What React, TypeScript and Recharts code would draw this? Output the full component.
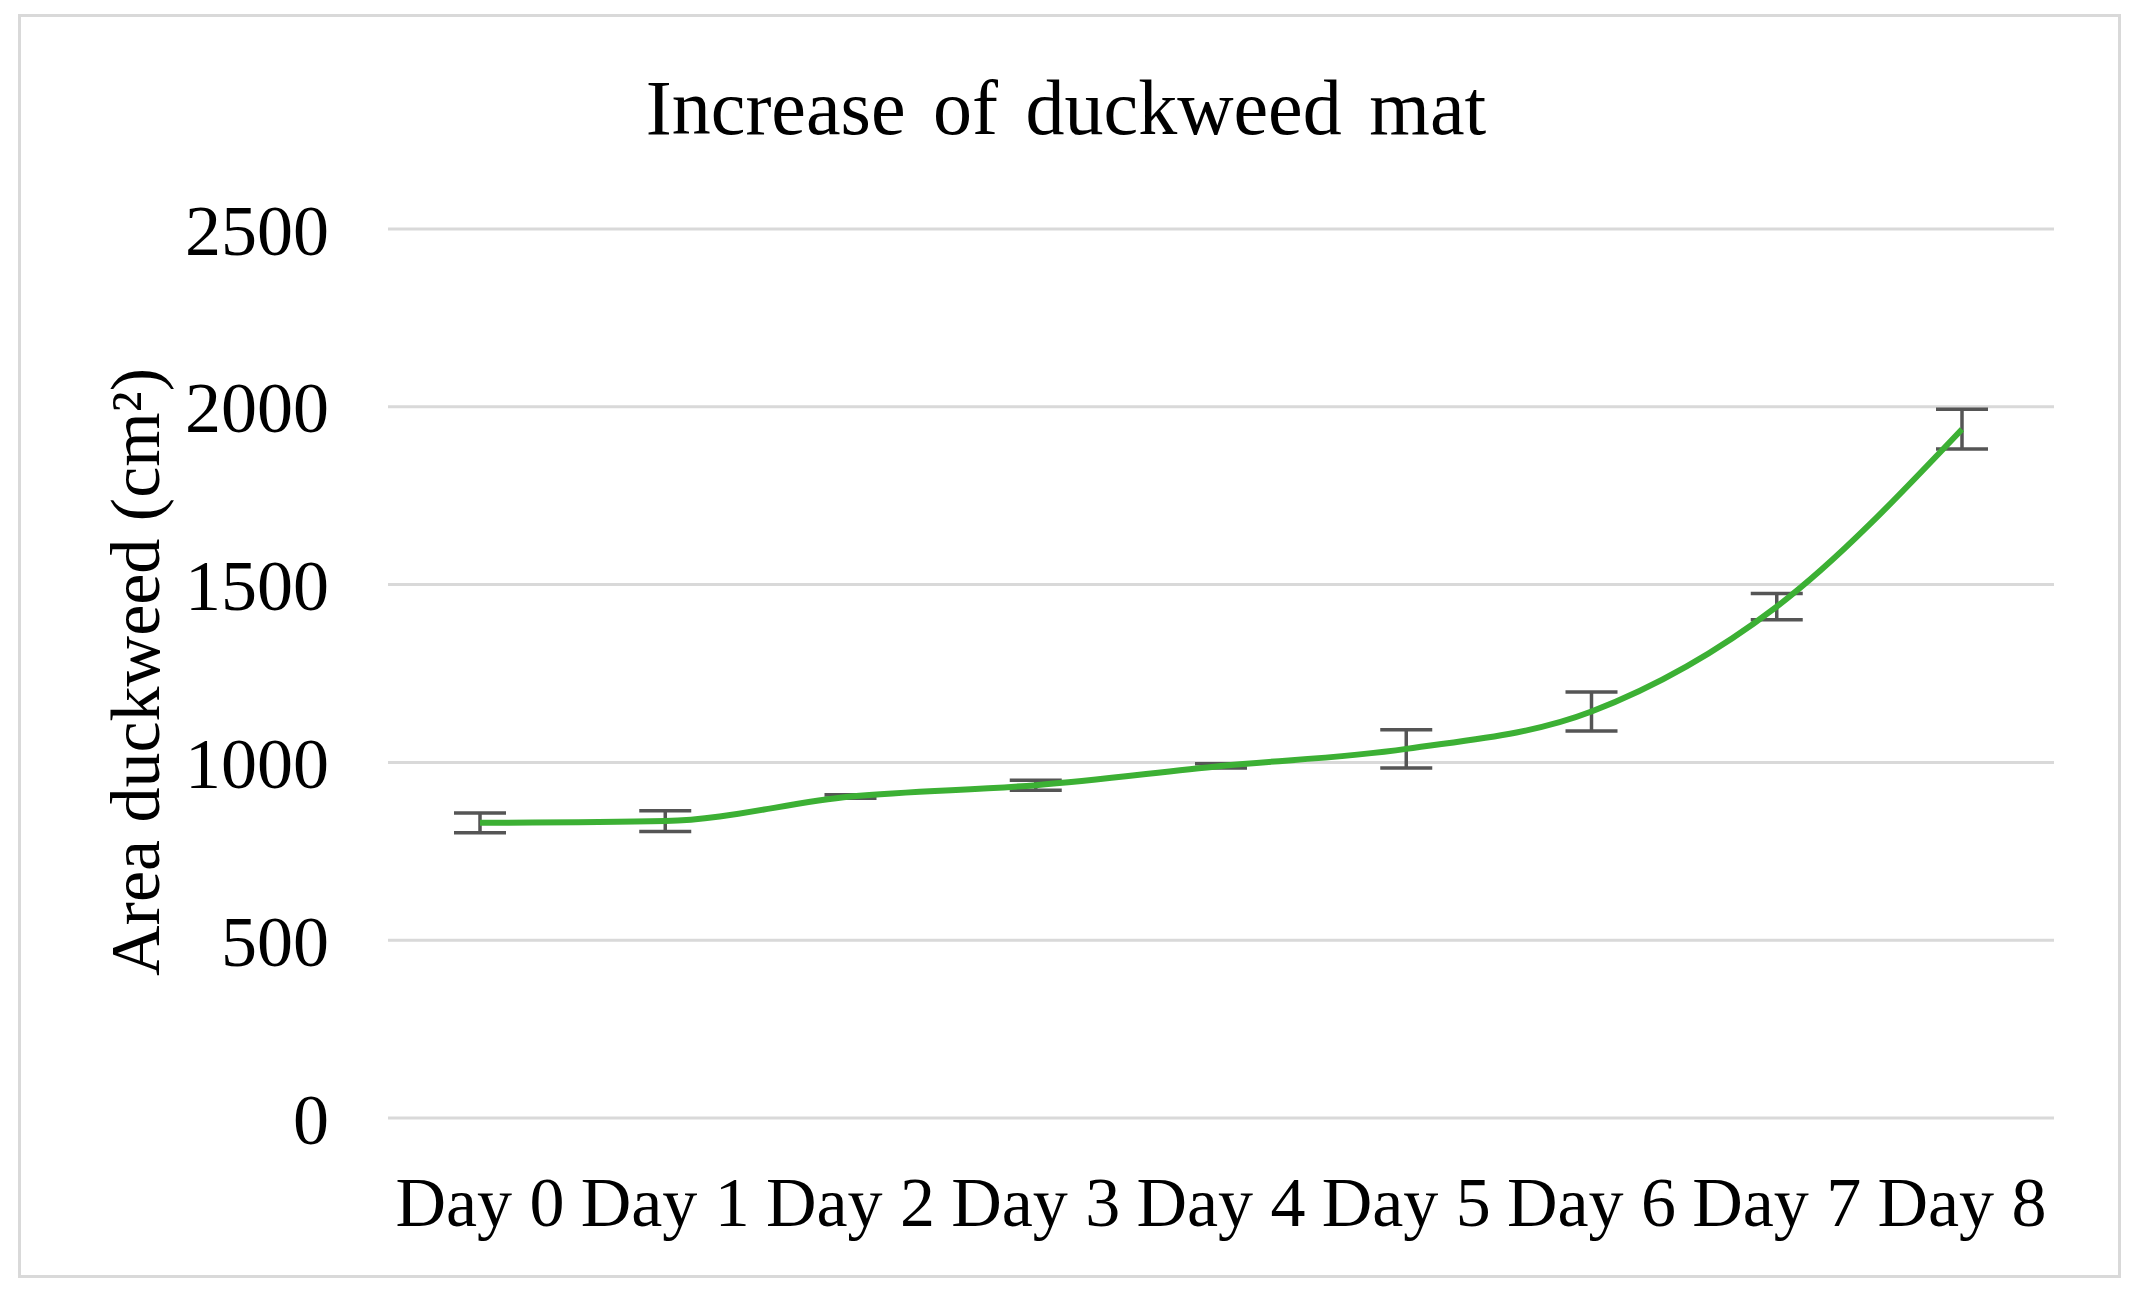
import React from "react";
import { LineChart, Line, XAxis, YAxis, CartesianGrid, ErrorBar } from "recharts";

const days = ["Day 0", "Day 1", "Day 2", "Day 3", "Day 4", "Day 5", "Day 6", "Day 7", "Day 8"];
const area = [830, 835, 904, 936, 990, 1038, 1143, 1438, 1937];
const areaErr = [28, 29, 5, 14, 6, 54, 55, 37, 56];
const yTicks = [0, 500, 1000, 1500, 2000, 2500];

const data = days.map((day, i) => ({ day, area: area[i], err: areaErr[i] }));

const font = "'Liberation Serif', 'Times New Roman', serif";

export default function App() {
  return (
    <div style={{ position: "absolute", left: 0, top: 0, width: 2132, height: 1292, background: "#fff", fontFamily: font }}>
      <div
        style={{
          position: "absolute", left: 18, top: 14, width: 2097, height: 1258,
          border: "3px solid #d9d9d9",
        }}
      />
      <div
        style={{
          position: "absolute", left: 0, top: 58, width: 2132, textAlign: "center",
          fontSize: 78, lineHeight: "100px", color: "#000", wordSpacing: 8,
        }}
      >
        Increase of duckweed mat
      </div>
      <div
        style={{
          position: "absolute", left: 136, top: 672, transform: "translate(-50%, -50%) rotate(-90deg)",
          whiteSpace: "nowrap", fontSize: 70, lineHeight: "80px", color: "#000",
        }}
      >
        Area duckweed (cm²)
      </div>
      <div style={{ position: "absolute", left: 0, top: 0 }}>
        <LineChart
          width={2132}
          height={1292}
          data={data}
          margin={{ top: 229, right: 78, left: 188, bottom: 24 }}
        >
          <CartesianGrid vertical={false} stroke="#d9d9d9" strokeWidth={3} />
          <XAxis
            dataKey="day"
            height={150}
            interval={0}
            padding={{ left: 92, right: 92 }}
            axisLine={false}
            tickLine={false}
            tickSize={0}
            tickMargin={58}
            tick={{ fill: "#000", fontSize: 70, fontFamily: font }}
          />
          <YAxis
            width={200}
            domain={[0, 2500]}
            ticks={yTicks}
            axisLine={false}
            tickLine={false}
            tickSize={0}
            tickMargin={59}
            tick={{ fill: "#000", fontSize: 72, fontFamily: font }}
          />
          <Line
            type="monotone"
            dataKey="area"
            stroke="#3cb034"
            strokeWidth={6}
            dot={false}
            isAnimationActive={false}
          >
            <ErrorBar dataKey="err" direction="y" width={26} strokeWidth={3.5} stroke="#555555" />
          </Line>
        </LineChart>
      </div>
    </div>
  );
}
